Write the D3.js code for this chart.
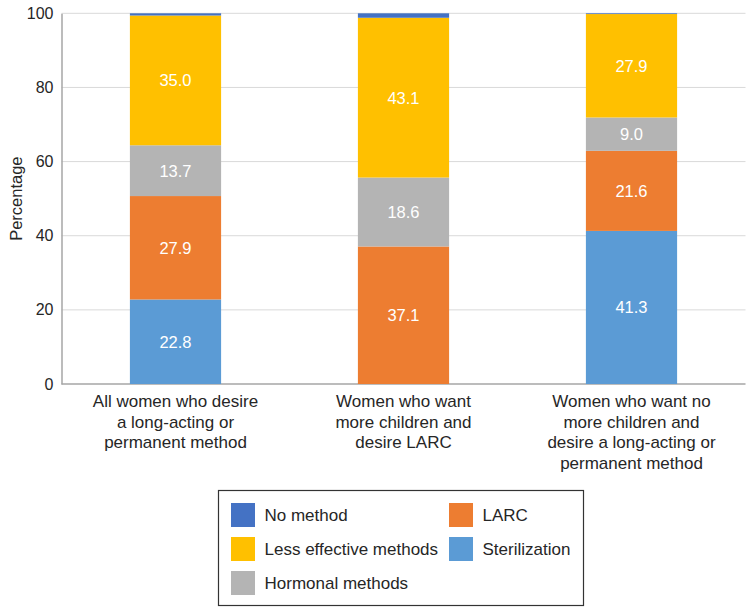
<!DOCTYPE html>
<html><head><meta charset="utf-8">
<script src="https://cdn.jsdelivr.net/npm/d3@7"></script>
<style>body{margin:0;background:#fff;font-family:"Liberation Sans",Arial,sans-serif;}</style>
</head><body><svg id="c" width="754" height="615"></svg>
<script>
const categories = [
  ["All women who desire","a long-acting or","permanent method"],
  ["Women who want","more children and","desire LARC"],
  ["Women who want no","more children and","desire a long-acting or","permanent method"]
];
const seriesNames = ["Sterilization","LARC","Hormonal methods","Less effective methods","No method"];
const sterilization = [22.8, 0, 41.3];
const larc = [27.9, 37.1, 21.6];
const hormonal = [13.7, 18.6, 9.0];
const lessEffective = [35.0, 43.1, 27.9];
const noMethod = [0.6, 1.2, 0.2];
const yTicks = [0,20,40,60,80,100];
const colors = {"Sterilization":"#5B9BD5","LARC":"#ED7D31","Hormonal methods":"#B4B4B4","Less effective methods":"#FFC000","No method":"#4472C4"};
const legendOrder = [["No method","LARC"],["Less effective methods","Sterilization"],["Hormonal methods"]];

(function(){
const svg = d3.select("#c");
const pl = 61.5, pr = 745.5, pt = 13.3, pb = 384;
const seriesVals = [sterilization, larc, hormonal, lessEffective, noMethod];
const rows = categories.map((c,i)=>{const r={i}; seriesNames.forEach((s,k)=>r[s]=seriesVals[k][i]); return r;});
const stack = d3.stack().keys(seriesNames)(rows);
const x = d3.scaleBand().domain(d3.range(categories.length)).range([pl,pr]).paddingInner(0.6).paddingOuter(0.3);
const y = d3.scaleLinear().domain([0,100]).range([pb,pt]);

svg.append("g").selectAll("line").data(yTicks.filter(d=>d>0)).join("line")
  .attr("x1",pl).attr("x2",pr).attr("y1",d=>y(d)).attr("y2",d=>y(d))
  .attr("stroke","#d9d9d9").attr("stroke-width",1);

const ya = svg.append("g").attr("transform",`translate(${pl},0)`)
  .call(d3.axisLeft(y).tickValues(yTicks).tickSize(0).tickPadding(8));
ya.select(".domain").attr("stroke","#a6a6a6").attr("stroke-width",1.5);
ya.selectAll("text").attr("font-size",16).attr("fill","#262626").attr("font-family","Liberation Sans, Arial, sans-serif");

svg.append("line").attr("x1",pl).attr("x2",pr).attr("y1",pb).attr("y2",pb)
  .attr("stroke","#a6a6a6").attr("stroke-width",1.5);

const layers = svg.append("g").selectAll("g").data(stack).join("g").attr("fill",d=>colors[d.key]);
layers.selectAll("rect").data(d=>d).join("rect")
  .attr("x",(d,i)=>x(i)).attr("width",x.bandwidth())
  .attr("y",d=>y(d[1])).attr("height",d=>y(d[0])-y(d[1]));

stack.forEach(layer=>{
  if(layer.key==="No method") return;
  svg.append("g").selectAll("text").data(layer.filter(d=>d[1]-d[0]>0)).join("text")
    .attr("x",d=>x(d.data.i)+x.bandwidth()/2).attr("y",d=>y((d[0]+d[1])/2))
    .attr("dy","0.36em").attr("text-anchor","middle").attr("fill","#fff").attr("font-size",16.5)
    .text(d=>(d[1]-d[0]).toFixed(1));
});

categories.forEach((lines,i)=>{
  const t = svg.append("text").attr("text-anchor","middle").attr("font-size",17).attr("fill","#262626");
  lines.forEach((l,j)=>t.append("tspan").attr("x",x(i)+x.bandwidth()/2).attr("y",407+j*20.7).text(l));
});

svg.append("text").attr("transform",`translate(22,${(pt+pb)/2}) rotate(-90)`)
  .attr("text-anchor","middle").attr("font-size",16.5).attr("fill","#262626").text("Percentage");

svg.append("rect").attr("x",218.5).attr("y",490.5).attr("width",365).attr("height",115)
  .attr("fill","none").attr("stroke","#333").attr("stroke-width",1.2);
const colX=[231,449], rowY=[503,537,571];
legendOrder.forEach((row,r)=>row.forEach((name,c)=>{
  svg.append("rect").attr("x",colX[c]).attr("y",rowY[r]).attr("width",24).attr("height",24).attr("fill",colors[name]);
  svg.append("text").attr("x",colX[c]+33.5).attr("y",rowY[r]+12).attr("dy","0.36em")
    .attr("font-size",17).attr("fill","#262626").text(name);
}));
})();
</script></body></html>
